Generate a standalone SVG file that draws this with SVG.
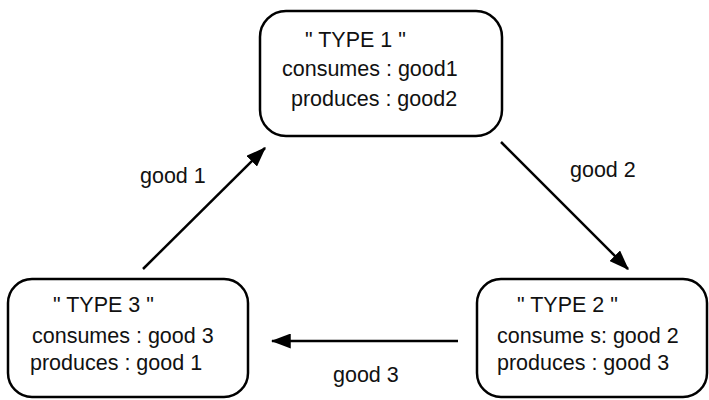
<svg xmlns="http://www.w3.org/2000/svg" width="709" height="400" viewBox="0 0 709 400">
<style>
.box{fill:#fff;stroke:#000;stroke-width:2.5}
text{font-family:"Liberation Sans",Arial,sans-serif;font-size:21.5px;fill:#111}
.edge{stroke:#000;stroke-width:2.5;fill:none}
</style>
<defs>
<marker id="ah" viewBox="0 0 16 12" refX="15" refY="6" markerWidth="8" markerHeight="6" markerUnits="strokeWidth" orient="auto">
<path d="M0,0 L16,6 L0,12 Z" fill="#000"/>
</marker>
</defs>
<rect width="709" height="400" fill="#fff"/>
<g id="type1">
<rect class="box" x="260" y="11" width="242" height="125" rx="26"/>
<text x="305" y="47">" TYPE 1 "</text>
<text x="282" y="76">consumes : good1</text>
<text x="291" y="106">produces : good2</text>
</g>
<g id="type3">
<rect class="box" x="8" y="279" width="240" height="118" rx="24"/>
<text x="53" y="312">" TYPE 3 "</text>
<text x="32" y="343">consumes : good 3</text>
<text x="30" y="370">produces : good 1</text>
</g>
<g id="type2">
<rect class="box" x="477" y="279" width="230" height="118" rx="24"/>
<text x="517" y="312">" TYPE 2 "</text>
<text x="497" y="343">consume s: good 2</text>
<text x="497" y="370">produces : good 3</text>
</g>
<g id="connectors">
<line class="edge" x1="143" y1="269" x2="265" y2="148" marker-end="url(#ah)"/>
<line class="edge" x1="501" y1="142" x2="628" y2="269" marker-end="url(#ah)"/>
<line class="edge" x1="458" y1="341" x2="272" y2="341" marker-end="url(#ah)"/>
<text x="140" y="183">good 1</text>
<text x="570" y="177">good 2</text>
<text x="333" y="382">good 3</text>
</g>
</svg>
